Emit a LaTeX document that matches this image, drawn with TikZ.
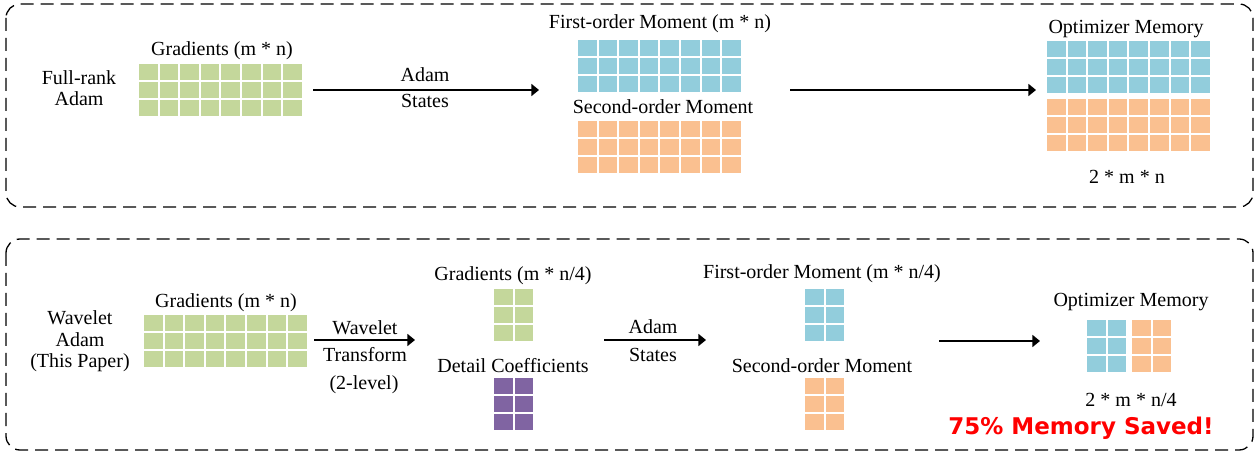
\documentclass[tikz,border=0pt]{standalone}
\usepackage{fontspec}
\setmainfont{Liberation Serif}
\newfontfamily\savedfont{DejaVu Sans}
\usepackage{tikz}
\usetikzlibrary{arrows.meta}
\definecolor{gradgreen}{HTML}{C4D79B}
\definecolor{momblue}{HTML}{92CDDC}
\definecolor{momorange}{HTML}{FAC090}
\definecolor{detpurple}{HTML}{8064A2}
\tikzset{
	panel/.style={draw=black, line width=0.65pt, rounded corners=7pt,
		dash pattern=on 6.5pt off 3.5pt},
	flow/.style={draw=black, line width=0.8pt,
		-{Triangle[length=3.8pt,width=6pt]}},
	lbl/.style={anchor=base, inner sep=0pt, align=center},
	savedlbl/.style={anchor=base, inner sep=0pt, text=red,
		font=\savedfont\bfseries\fontsize{11.5}{13}\selectfont},
}
% one block of memory cells: name, left, top, columns, rows, colour
\newcommand{\memgrid}[6]{%
	\foreach \gc in {1,...,#4}
		\foreach \gr in {1,...,#5}
			\fill[#6] ({#2+(\gc-1)*20.6},{#3+(\gr-1)*18}) rectangle ++(18.6,16);
	\node[inner sep=0pt, minimum width={(#4*20.6-2)*0.5pt},
		minimum height={(#5*18-2)*0.5pt}]
		(#1) at ({#2+(#4*20.6-2)/2},{#3+(#5*18-2)/2}) {};
}

\begin{document}
\begin{tikzpicture}[x=0.5pt, y=-0.5pt, font=\fontsize{10}{10.75}\selectfont]
	\useasboundingbox (0,0) rectangle (1256,453);
	\draw[panel] (6,4) rectangle (1253,207);
	\draw[panel] (6,239) rectangle (1253,450);
	%
	% full-rank Adam
	\node[lbl] (fullname) at (79,106) {Full-rank\\Adam};
	\memgrid{gradfull}{139}{64}{8}{3}{gradgreen}
	\node[lbl] (gradfulltxt) at (222,56) {Gradients (m * n)};
	%
	\coordinate (fa1) at (313,90);
	\coordinate (fa2) at (539,90);
	\draw[flow] (fa1) -- (fa2);
	\node[lbl] (fadam) at (425,82) {Adam};
	\node[lbl] (fstates) at (425,108) {States};
	%
	\memgrid{firstfull}{578}{40}{8}{3}{momblue}
	\node[lbl] (firstfulltxt) at (660,29) {First-order Moment (m * n)};
	\memgrid{secondfull}{578}{121}{8}{3}{momorange}
	\node[lbl] (secondfulltxt) at (663,114) {Second-order Moment};
	%
	\coordinate (fb1) at (790,90);
	\coordinate (fb2) at (1036,90);
	\draw[flow] (fb1) -- (fb2);
	%
	\node[lbl] (memfulltxt) at (1126,34) {Optimizer Memory};
	\memgrid{memfulla}{1047}{41}{8}{3}{momblue}
	\memgrid{memfullb}{1047}{99}{8}{3}{momorange}
	\node[lbl] (memfullsize) at (1127,184) {2 * m * n};
	%
	% wavelet Adam
	\node[lbl] (wavename) at (80,368) {Wavelet\\Adam\\(This Paper)};
	\memgrid{gradwave}{144}{315}{8}{3}{gradgreen}
	\node[lbl] (gradwavetxt) at (226,308) {Gradients (m * n)};
	%
	\coordinate (wa1) at (314,340);
	\coordinate (wa2) at (415,340);
	\draw[flow] (wa1) -- (wa2);
	\node[lbl] (wtrans) at (365,335) {Wavelet};
	\node[lbl] (wtrans2) at (365,362) {Transform};
	\node[lbl] (wtrans3) at (364,390) {(2-level)};
	%
	\memgrid{gradlow}{494}{289}{2}{3}{gradgreen}
	\node[lbl] (gradlowtxt) at (513,281) {Gradients (m * n/4)};
	\memgrid{detail}{494}{378}{2}{3}{detpurple}
	\node[lbl] (detailtxt) at (513,373) {Detail Coefficients};
	%
	\coordinate (wb1) at (604,340);
	\coordinate (wb2) at (706,340);
	\draw[flow] (wb1) -- (wb2);
	\node[lbl] (wadam) at (653,334) {Adam};
	\node[lbl] (wstates) at (653,362) {States};
	%
	\memgrid{firstwave}{805}{289}{2}{3}{momblue}
	\node[lbl] (firstwavetxt) at (822,279) {First-order Moment (m * n/4)};
	\memgrid{secondwave}{805}{378}{2}{3}{momorange}
	\node[lbl] (secondwavetxt) at (822,372) {Second-order Moment};
	%
	\coordinate (wc1) at (939,341);
	\coordinate (wc2) at (1040,341);
	\draw[flow] (wc1) -- (wc2);
	%
	\node[lbl] (memwavetxt) at (1131,307) {Optimizer Memory};
	\memgrid{memwavea}{1087}{320}{2}{3}{momblue}
	\memgrid{memwaveb}{1132}{320}{2}{3}{momorange}
	\node[lbl] (memwavesize) at (1131,407) {2 * m * n/4};
	\node[savedlbl] (saved) at (1081,435) {75\% Memory Saved!};
\end{tikzpicture}
\end{document}
